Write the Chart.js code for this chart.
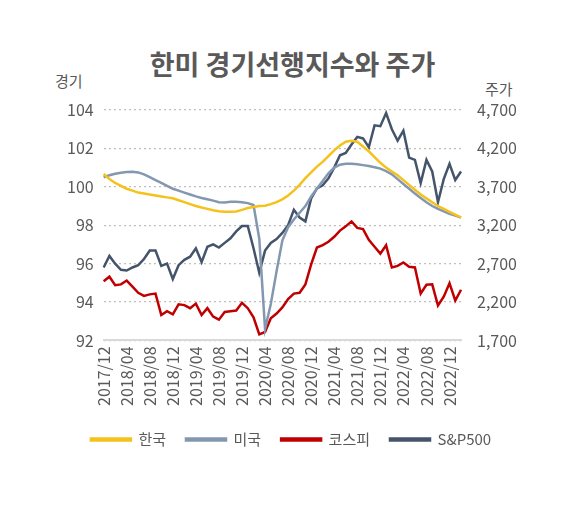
<!DOCTYPE html>
<html><head><meta charset="utf-8">
<script src="https://cdn.jsdelivr.net/npm/chart.js@4"></script>
<style>
html,body{margin:0;padding:0;background:#fff;}
#wrap{position:relative;width:585px;height:505px;font-family:"Noto Sans CJK KR",sans-serif;}
#title{position:absolute;left:0;width:585px;top:44px;text-align:center;font-size:27px;font-weight:bold;color:#595959;}
.ax{position:absolute;font-size:15px;color:#595959;}
canvas{position:absolute;left:0;top:0;}
</style></head><body>
<div id="wrap">
<div id="title">한미 경기선행지수와 주가</div>
<div class="ax" style="left:55px;top:70px;">경기</div>
<div class="ax" style="left:485px;top:78px;">주가</div>
<canvas id="c" width="585" height="505"></canvas>
</div>
<script>
const categories = ["2017/12","2018/01","2018/02","2018/03","2018/04","2018/05","2018/06","2018/07","2018/08","2018/09","2018/10","2018/11","2018/12",
"2019/01","2019/02","2019/03","2019/04","2019/05","2019/06","2019/07","2019/08","2019/09","2019/10","2019/11","2019/12",
"2020/01","2020/02","2020/03","2020/04","2020/05","2020/06","2020/07","2020/08","2020/09","2020/10","2020/11","2020/12",
"2021/01","2021/02","2021/03","2021/04","2021/05","2021/06","2021/07","2021/08","2021/09","2021/10","2021/11","2021/12",
"2022/01","2022/02","2022/03","2022/04","2022/05","2022/06","2022/07","2022/08","2022/09","2022/10","2022/11","2022/12",
"2023/01","2023/02"];
const korea = [100.67,100.4,100.2,100.05,99.9,99.8,99.7,99.65,99.6,99.55,99.5,99.45,99.4,99.3,99.2,99.1,99.0,98.92,98.85,98.78,98.73,98.7,98.7,98.72,98.8,98.9,98.95,99.0,99.02,99.1,99.2,99.35,99.55,99.8,100.1,100.45,100.75,101.05,101.3,101.6,101.9,102.15,102.35,102.4,102.35,102.1,101.85,101.55,101.25,101.0,100.8,100.6,100.35,100.1,99.85,99.6,99.4,99.2,99.0,98.85,98.7,98.55,98.4];
const usa = [100.5,100.6,100.68,100.73,100.77,100.78,100.75,100.65,100.5,100.35,100.2,100.05,99.9,99.8,99.7,99.6,99.5,99.42,99.35,99.28,99.2,99.18,99.22,99.22,99.2,99.15,99.05,97.3,92.6,93.9,95.6,97.2,97.9,98.3,98.65,99.0,99.5,99.9,100.3,100.7,101.0,101.15,101.2,101.2,101.18,101.13,101.08,101.02,100.95,100.82,100.65,100.4,100.15,99.9,99.65,99.42,99.2,99.0,98.85,98.72,98.6,98.5,98.4];
const kospi = [2470,2530,2420,2430,2480,2400,2320,2280,2300,2310,2030,2080,2040,2170,2160,2120,2180,2030,2120,2010,1970,2070,2080,2090,2190,2120,2000,1780,1810,1990,2050,2130,2240,2310,2320,2430,2690,2910,2940,2985,3050,3130,3185,3250,3165,3150,3010,2920,2830,2940,2650,2670,2715,2660,2650,2310,2425,2430,2155,2270,2445,2220,2360];
const sp500 = [2650,2800,2700,2620,2610,2650,2680,2760,2870,2870,2670,2700,2500,2680,2750,2790,2900,2720,2920,2950,2910,2970,3030,3120,3190,3190,2900,2580,2870,2970,3020,3100,3200,3400,3300,3250,3550,3680,3720,3810,3950,4110,4140,4250,4350,4330,4215,4500,4490,4660,4450,4300,4430,4080,4050,3750,4050,3900,3500,3800,4000,3790,3900];
const leftTicks = [92,104,2];
const rightTicks = [1700,4700,500];

const ff = '"Noto Sans CJK KR", sans-serif';
new Chart(document.getElementById('c'), {
  type:'line',
  data:{labels:categories,datasets:[
    {label:'한국',data:korea,borderColor:'#F5C21B',backgroundColor:'#F5C21B',yAxisID:'y',borderWidth:2.5,pointRadius:0,tension:0},
    {label:'미국',data:usa,borderColor:'#8497B0',backgroundColor:'#8497B0',yAxisID:'y',borderWidth:2.5,pointRadius:0,tension:0},
    {label:'코스피',data:kospi,borderColor:'#C00000',backgroundColor:'#C00000',yAxisID:'y2',borderWidth:2.5,pointRadius:0,tension:0},
    {label:'S&P500',data:sp500,borderColor:'#44546A',backgroundColor:'#44546A',yAxisID:'y2',borderWidth:2.5,pointRadius:0,tension:0}
  ]},
  options:{responsive:false,animation:false,
    layout:{padding:{top:110,left:57,right:60,bottom:48}},
    plugins:{title:{display:false},tooltip:{enabled:false},
      legend:{position:'bottom',labels:{boxWidth:40,boxHeight:2,color:'#595959',font:{family:ff,size:15},padding:20}}},
    scales:{
      x:{offset:false,grid:{display:false,drawTicks:false},border:{color:'#D9D9D9',width:2},
        ticks:{autoSkip:false,maxRotation:90,minRotation:90,color:'#595959',font:{family:ff,size:16},padding:6,
          callback:function(v,i){return i%4===0?categories[i]:null;}}},
      y:{position:'left',min:leftTicks[0],max:leftTicks[1],
        grid:{color:'#BFBFBF',lineWidth:1.3,drawTicks:false},border:{display:false,dash:[2,3]},
        ticks:{stepSize:leftTicks[2],color:'#595959',font:{family:ff,size:16},padding:10}},
      y2:{position:'right',min:rightTicks[0],max:rightTicks[1],grid:{display:false},border:{display:false},
        ticks:{stepSize:rightTicks[2],color:'#595959',font:{family:ff,size:16},padding:8,
          callback:v=>v.toLocaleString('en-US')}}
    }}
});
</script>
</body></html>
